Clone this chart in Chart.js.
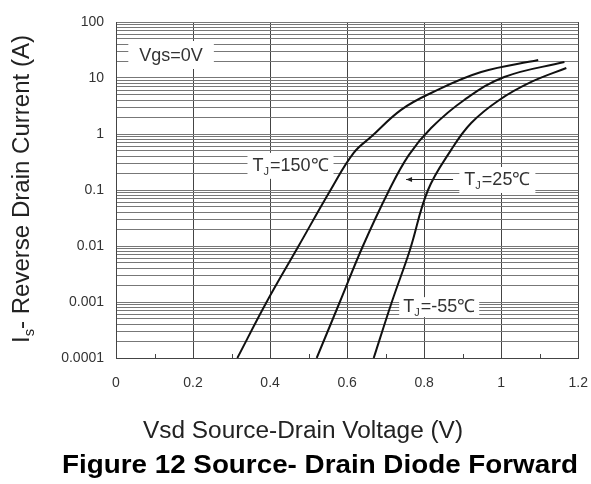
<!DOCTYPE html>
<html>
<head>
<meta charset="utf-8">
<script src="https://cdn.jsdelivr.net/npm/chart.js@4.4.1/dist/chart.umd.min.js"></script>
<style>
  html, body { margin: 0; padding: 0; background: #fff; }
  #wrap { width: 591px; height: 484px; }
</style>
</head>
<body>
<div id="wrap"><canvas id="diode"></canvas></div>
<script>
// (Vsd in V, Is in A)
var vsd150 = [0.315, 0.391, 0.474, 0.557, 0.617, 0.663, 0.740, 0.818, 0.948, 1.096];
var is150  = [0.0001, 0.001, 0.01, 0.1, 0.46, 0.9, 2.7, 5.4, 12.8, 21];

var vsd25 = [0.521, 0.581, 0.641, 0.708, 0.760, 0.818, 0.904, 1.008, 1.164];
var is25  = [0.0001, 0.001, 0.01, 0.096, 0.42, 1.28, 4.05, 10.4, 19.3];

var vsdM55 = [0.669, 0.716, 0.763, 0.810, 0.870, 0.922, 0.995, 1.078, 1.169];
var isM55  = [0.0001, 0.001, 0.0085, 0.1, 0.52, 1.57, 4.05, 8.5, 15.1];

var yTickLabels = ["0.0001", "0.001", "0.01", "0.1", "1", "10", "100"];
var xTickLabels = ["0", "0.2", "0.4", "0.6", "0.8", "1", "1.2"];

var FONT = "'Liberation Sans', Arial, sans-serif";

function pts(xs, ys) {
  return xs.map(function (x, i) { return { x: x, y: ys[i] }; });
}

function curve(label, xs, ys) {
  return {
    label: label,
    data: pts(xs, ys),
    borderColor: "#111",
    borderWidth: 2,
    pointRadius: 0,
    tension: 0.4,
    fill: false
  };
}

// label with subscript J, e.g. T_J=25℃
function drawTJ(ctx, cx, cy, rest, padX, padY) {
  var big = "18px " + FONT;
  var small = "11px " + FONT;
  ctx.font = big;
  var wT = ctx.measureText("T").width;
  var wR = ctx.measureText(rest).width;
  ctx.font = small;
  var wJ = ctx.measureText("J").width + 1;
  var w = wT + wJ + wR;
  ctx.fillStyle = "#fff";
  ctx.fillRect(cx - w / 2 - padX, cy - 10 - padY, w + 2 * padX, 20 + 2 * padY);
  ctx.fillStyle = "#333";
  ctx.textBaseline = "middle";
  ctx.textAlign = "left";
  var x = cx - w / 2;
  ctx.font = big;
  ctx.fillText("T", x, cy);
  ctx.font = small;
  ctx.fillText("J", x + wT, cy + 6);
  ctx.font = big;
  ctx.fillText(rest, x + wT + wJ, cy);
}

// centred text stretched to a given width (the scan is a bit wide)
function fitText(ctx, text, cx, cy, width) {
  var w = ctx.measureText(text).width;
  ctx.save();
  ctx.translate(cx, cy);
  ctx.scale(width / w, 1);
  ctx.textAlign = "center";
  ctx.textBaseline = "middle";
  ctx.fillText(text, 0, 0);
  ctx.restore();
}

var extras = {
  id: "extras",
  afterDatasetsDraw: function (chart) {
    var ctx = chart.ctx, xs = chart.scales.x, ys = chart.scales.y, a = chart.chartArea;
    ctx.save();

    // small minor ticks on the bottom edge
    ctx.strokeStyle = "#444";
    ctx.lineWidth = 1;
    for (var v = 0.1; v < 1.2; v += 0.2) {
      var px = Math.round(xs.getPixelForValue(v)) + 0.5;
      ctx.beginPath();
      ctx.moveTo(px, a.bottom);
      ctx.lineTo(px, a.bottom - 4);
      ctx.stroke();
    }

    // Vgs=0V box
    ctx.font = "18px " + FONT;
    var gx = xs.getPixelForValue(0.143), gy = ys.getPixelForValue(24.7);
    var gw = ctx.measureText("Vgs=0V").width;
    ctx.fillStyle = "#fff";
    ctx.fillRect(gx - gw / 2 - 11, gy - 15, gw + 22, 28);
    ctx.fillStyle = "#333";
    ctx.textAlign = "center";
    ctx.textBaseline = "middle";
    ctx.fillText("Vgs=0V", gx, gy);

    drawTJ(ctx, xs.getPixelForValue(0.453), ys.getPixelForValue(0.27), "=150\u2103", 5, 3);
    drawTJ(ctx, xs.getPixelForValue(0.99), ys.getPixelForValue(0.151), "=25\u2103", 5, 3);
    drawTJ(ctx, xs.getPixelForValue(0.839), ys.getPixelForValue(0.00081), "=-55\u2103", 4, 0);

    // arrow pointing to the 25 C curve
    var ay = Math.round(ys.getPixelForValue(0.156)) + 0.5;
    var ax1 = xs.getPixelForValue(0.875), ax2 = xs.getPixelForValue(0.753);
    ctx.strokeStyle = "#222";
    ctx.fillStyle = "#222";
    ctx.lineWidth = 1;
    ctx.beginPath();
    ctx.moveTo(ax1, ay);
    ctx.lineTo(ax2, ay);
    ctx.stroke();
    ctx.beginPath();
    ctx.moveTo(ax2, ay);
    ctx.lineTo(ax2 + 6, ay - 2.5);
    ctx.lineTo(ax2 + 6, ay + 2.5);
    ctx.closePath();
    ctx.fill();

    // axis titles
    ctx.fillStyle = "#222";
    ctx.font = "23px " + FONT;
    fitText(ctx, "Vsd Source-Drain Voltage (V)", 303, 432, 320);

    ctx.fillStyle = "#000";
    ctx.font = "bold 25px " + FONT;
    fitText(ctx, "Figure 12 Source- Drain Diode Forward", 320, 466, 516);

    // rotated y title with subscript s
    ctx.save();
    ctx.translate(23, 189);
    ctx.rotate(-Math.PI / 2);
    ctx.fillStyle = "#222";
    ctx.textBaseline = "middle";
    var f1 = "23px " + FONT;
    var f2 = "14px " + FONT;
    var rest = "- Reverse Drain Current (A)";
    ctx.font = f1;
    var wI = ctx.measureText("I").width, wRest = ctx.measureText(rest).width;
    ctx.font = f2;
    var wS = ctx.measureText("s").width;
    var total = wI + wS + wRest;
    ctx.scale(308 / total, 1);
    var x0 = -total / 2;
    ctx.textAlign = "left";
    ctx.font = f1;
    ctx.fillText("I", x0, 0);
    ctx.font = f2;
    ctx.fillText("s", x0 + wI, 7);
    ctx.font = f1;
    ctx.fillText(rest, x0 + wI + wS, 0);
    ctx.restore();

    ctx.restore();
  }
};

var ctx = document.getElementById("diode");

new Chart(ctx, {
  type: "line",
  data: {
    datasets: [
      curve("TJ=150", vsd150, is150),
      curve("TJ=25", vsd25, is25),
      curve("TJ=-55", vsdM55, isM55)
    ]
  },
  options: {
    responsive: true,
    maintainAspectRatio: false,
    animation: false,
    layout: { padding: { left: 0, top: 22, right: 0, bottom: 0 } },
    plugins: {
      legend: { display: false },
      tooltip: { enabled: false }
    },
    scales: {
      x: {
        type: "linear",
        min: 0,
        max: 1.2,
        afterFit: function (s) { s.height = 126; },
        ticks: {
          stepSize: 0.2,
          padding: 3,
          color: "#333",
          font: { family: FONT, size: 14 },
          callback: function (value) {
            return xTickLabels[Math.round(value / 0.2)];
          }
        },
        grid: { color: "#444", lineWidth: 1, drawTicks: true, tickLength: 14, tickColor: "rgba(0,0,0,0)" },
        border: { color: "#444" }
      },
      y: {
        type: "logarithmic",
        min: 0.0001,
        max: 100,
        afterFit: function (s) { s.width = 116; },
        afterBuildTicks: function (s) {
          var t = [];
          for (var e = -4; e <= 2; e++) {
            for (var m = 1; m <= 9; m++) {
              if (e === 2 && m > 1) break;
              t.push({ value: m * Math.pow(10, e) });
            }
          }
          s.ticks = t;
        },
        ticks: {
          autoSkip: false,
          padding: 12,
          color: "#333",
          font: { family: FONT, size: 14 },
          callback: function (value) {
            var e = Math.log10(value);
            if (Math.abs(e - Math.round(e)) < 1e-6) return yTickLabels[Math.round(e) + 4];
            return "";
          }
        },
        grid: { color: "#777", lineWidth: 1, drawTicks: false },
        border: { color: "#444" }
      }
    }
  },
  plugins: [extras]
});
</script>
</body>
</html>
